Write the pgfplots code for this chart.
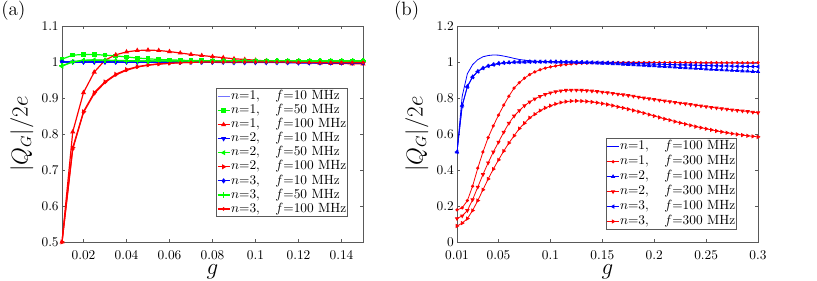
\documentclass[border=0pt]{standalone}
\usepackage{pgfplots}
\pgfplotsset{compat=1.18}
\usepackage{pgfplotstable}

\definecolor{mred}{rgb}{1,0,0}
\definecolor{mgreen}{rgb}{0,1,0}
\definecolor{mblue}{rgb}{0,0,1}
\definecolor{lblue}{rgb}{0.45,0.45,1}
\definecolor{axgray}{rgb}{0.35,0.35,0.35}

\pgfplotstableread{
g     a1    a2    a3    a4    a5    a6    a7    a8    a9
0.010 1.000 1.008 0.500 1.000 0.988 0.500 1.000 0.990 0.500
0.015 1.000 1.019 0.806 1.000 1.001 0.762 1.000 1.000 0.758
0.020 1.000 1.021 0.915 1.000 1.005 0.862 1.000 1.004 0.860
0.025 1.000 1.021 0.972 1.000 1.006 0.915 1.000 1.005 0.912
0.030 1.000 1.019 1.005 1.000 1.005 0.945 1.000 1.005 0.943
0.035 1.000 1.017 1.020 1.000 1.004 0.966 1.000 1.004 0.964
0.040 1.000 1.014 1.028 1.000 1.004 0.979 1.000 1.003 0.977
0.045 1.000 1.011 1.032 1.000 1.003 0.987 1.000 1.003 0.986
0.050 1.000 1.009 1.033 1.000 1.003 0.992 1.000 1.003 0.991
0.055 1.000 1.007 1.032 1.000 1.003 0.995 1.000 1.003 0.994
0.060 1.000 1.006 1.029 1.000 1.003 0.997 1.000 1.003 0.996
0.065 1.000 1.005 1.025 1.000 1.003 0.998 1.000 1.003 0.998
0.070 1.000 1.004 1.021 1.000 1.003 0.999 1.000 1.003 0.999
0.075 1.000 1.004 1.018 1.000 1.003 1.000 1.000 1.003 1.000
0.080 1.000 1.003 1.015 1.000 1.003 1.000 1.000 1.003 1.000
0.085 0.999 1.003 1.012 1.000 1.003 1.000 1.000 1.003 1.000
0.090 0.999 1.003 1.009 0.999 1.003 1.000 0.999 1.003 1.000
0.095 0.999 1.003 1.007 0.999 1.003 1.000 0.999 1.003 1.000
0.100 0.999 1.003 1.005 0.999 1.003 1.000 0.999 1.003 1.000
0.105 0.999 1.003 1.003 0.999 1.003 1.000 0.999 1.003 1.000
0.110 0.999 1.003 1.002 0.999 1.003 1.000 0.999 1.003 1.000
0.115 0.999 1.003 1.000 0.999 1.003 1.000 0.999 1.003 1.000
0.120 0.998 1.003 0.999 0.998 1.003 1.000 0.998 1.003 0.999
0.125 0.998 1.003 0.998 0.998 1.003 0.999 0.998 1.003 0.999
0.130 0.998 1.003 0.997 0.998 1.003 0.999 0.998 1.003 0.999
0.135 0.998 1.003 0.996 0.998 1.003 0.999 0.998 1.003 0.999
0.140 0.998 1.003 0.996 0.998 1.003 0.999 0.998 1.003 0.999
0.145 0.998 1.003 0.995 0.998 1.003 0.999 0.998 1.003 0.999
0.150 0.998 1.003 0.995 0.998 1.003 0.999 0.998 1.003 0.999
}\tbla

\pgfplotstableread{
g     b1    b2    b3    b4    b5    b6
0.010 0.500 0.178 0.500 0.130 0.500 0.089
0.015 0.810 0.190 0.760 0.145 0.755 0.105
0.020 0.935 0.230 0.865 0.175 0.862 0.130
0.025 0.985 0.310 0.918 0.235 0.916 0.175
0.030 1.013 0.410 0.948 0.305 0.947 0.230
0.035 1.029 0.500 0.966 0.375 0.965 0.290
0.040 1.036 0.580 0.978 0.440 0.977 0.350
0.045 1.039 0.645 0.986 0.500 0.985 0.405
0.050 1.038 0.705 0.992 0.555 0.991 0.456
0.055 1.033 0.760 0.995 0.610 0.995 0.505
0.060 1.027 0.810 0.997 0.660 0.997 0.550
0.065 1.020 0.855 0.999 0.700 0.999 0.590
0.070 1.014 0.885 1.000 0.730 1.000 0.630
0.075 1.010 0.910 1.000 0.757 1.000 0.660
0.080 1.007 0.930 1.001 0.778 1.001 0.690
0.085 1.005 0.945 1.001 0.795 1.001 0.710
0.090 1.004 0.957 1.001 0.809 1.001 0.730
0.095 1.003 0.966 1.001 0.820 1.001 0.745
0.100 1.002 0.973 1.001 0.829 1.001 0.757
0.105 1.002 0.978 1.000 0.835 1.001 0.767
0.110 1.001 0.983 1.000 0.840 1.000 0.775
0.115 1.001 0.986 0.999 0.843 1.000 0.780
0.120 1.001 0.989 0.999 0.844 1.000 0.783
0.125 1.000 0.991 0.998 0.844 0.999 0.784
0.130 1.000 0.993 0.997 0.843 0.999 0.783
0.135 1.000 0.994 0.996 0.841 0.998 0.781
0.140 1.000 0.995 0.995 0.839 0.998 0.778
0.145 1.000 0.996 0.994 0.836 0.997 0.774
0.150 0.999 0.996 0.993 0.833 0.996 0.769
0.155 0.999 0.997 0.992 0.830 0.996 0.764
0.160 0.999 0.997 0.990 0.826 0.995 0.758
0.165 0.999 0.997 0.989 0.822 0.994 0.751
0.170 0.999 0.997 0.987 0.818 0.993 0.745
0.175 0.999 0.997 0.986 0.814 0.993 0.738
0.180 0.998 0.997 0.984 0.810 0.992 0.731
0.185 0.998 0.997 0.983 0.805 0.991 0.724
0.190 0.998 0.997 0.981 0.800 0.990 0.716
0.195 0.998 0.997 0.979 0.796 0.989 0.708
0.200 0.998 0.997 0.978 0.792 0.988 0.700
0.205 0.997 0.997 0.976 0.788 0.988 0.692
0.210 0.997 0.997 0.974 0.784 0.987 0.684
0.215 0.997 0.997 0.973 0.780 0.986 0.677
0.220 0.997 0.997 0.971 0.776 0.985 0.669
0.225 0.996 0.997 0.969 0.772 0.984 0.662
0.230 0.996 0.997 0.968 0.768 0.984 0.655
0.235 0.996 0.996 0.966 0.764 0.983 0.648
0.240 0.996 0.996 0.964 0.760 0.982 0.641
0.245 0.995 0.996 0.963 0.756 0.981 0.635
0.250 0.995 0.996 0.961 0.752 0.980 0.629
0.255 0.995 0.996 0.959 0.748 0.980 0.623
0.260 0.995 0.996 0.958 0.745 0.979 0.617
0.265 0.994 0.996 0.956 0.741 0.978 0.612
0.270 0.994 0.996 0.955 0.738 0.978 0.607
0.275 0.994 0.996 0.953 0.734 0.977 0.602
0.280 0.994 0.996 0.952 0.731 0.976 0.598
0.285 0.993 0.996 0.950 0.728 0.976 0.594
0.290 0.993 0.996 0.949 0.725 0.975 0.590
0.295 0.993 0.996 0.947 0.721 0.975 0.587
0.300 0.993 0.996 0.946 0.718 0.974 0.584
}\tblb

\pgfplotsset{
  myaxis/.style={
    scale only axis, width=225.75pt, height=162pt,
    anchor=south west,
    axis line style={axgray}, tick style={axgray, line width=0.4pt},
    tick align=inside, xtick pos=both, ytick pos=both,
    major tick length=2.5pt,
    tick label style={font=\normalsize},
    xticklabel style={inner sep=0pt, yshift=-6pt},
    yticklabel style={inner sep=0pt, xshift=-2.3pt},
    label style={font=\fontsize{16}{19}\selectfont},
    xlabel style={at={(axis description cs:0.5,-0.152)}, anchor=base, inner sep=0pt},
    ylabel style={at={(axis description cs:-0.133,0.5)}, anchor=center, inner sep=0pt},
    legend cell align=left,
    legend style={draw=axgray, line width=0.4pt, font=\normalsize, inner sep=0.5pt,
      nodes={inner sep=0.5pt, text height=7.15pt, text depth=2.4pt}},
    legend image code/.code={\draw[mark repeat=2,mark phase=2] plot coordinates {(0pt,0pt) (4.5pt,0pt) (9pt,0pt)};},
    every axis plot/.append style={mark size=1.3pt},
  },
}

\begin{document}
\begin{tikzpicture}
\useasboundingbox (0,0) rectangle (612.75pt,210.75pt);
\node[font=\Large] at (10pt,202.5pt) {(a)};
\node[font=\Large] at (305pt,202.5pt) {(b)};

\begin{axis}[myaxis, at={(46.5pt,29.25pt)},
  xmin=0.01, xmax=0.15, ymin=0.5, ymax=1.1,
  xtick={0.02,0.04,0.06,0.08,0.1,0.12,0.14},
  xticklabels={0.02,0.04,0.06,0.08,0.1,0.12,0.14},
  ytick={0.5,0.6,0.7,0.8,0.9,1,1.1},
  yticklabels={0.5,0.6,0.7,0.8,0.9,1,1.1},
  xlabel={$g$}, ylabel={$|Q_G|/2e$},
  legend style={at={(0.950,0.116)}, anchor=south east},
  every axis plot/.append style={line width=0.9pt},
]
\addplot[lblue, line width=1.3pt, no marks] table[x=g,y=a1]{\tbla};
\addlegendentry{$n{=}1,\ \ \ f{=}10$ MHz}
\addplot[mgreen, mark=square*] table[x=g,y=a2]{\tbla};
\addlegendentry{$n{=}1,\ \ \ f{=}50$ MHz}
\addplot[mred, mark=triangle*] table[x=g,y=a3]{\tbla};
\addlegendentry{$n{=}1,\ \ \ f{=}100$ MHz}
\addplot[mblue, mark=triangle*, mark options={rotate=180}] table[x=g,y=a4]{\tbla};
\addlegendentry{$n{=}2,\ \ \ f{=}10$ MHz}
\addplot[mgreen, mark=triangle*, mark options={rotate=90}] table[x=g,y=a5]{\tbla};
\addlegendentry{$n{=}2,\ \ \ f{=}50$ MHz}
\addplot[mred, mark=triangle*, mark options={rotate=-90}] table[x=g,y=a6]{\tbla};
\addlegendentry{$n{=}2,\ \ \ f{=}100$ MHz}
\addplot[mblue, mark=diamond*] table[x=g,y=a7]{\tbla};
\addlegendentry{$n{=}3,\ \ \ f{=}10$ MHz}
\addplot[mgreen, mark=+, mark size=2pt] table[x=g,y=a8]{\tbla};
\addlegendentry{$n{=}3,\ \ \ f{=}50$ MHz}
\addplot[mred, mark=*, mark size=0.8pt] table[x=g,y=a9]{\tbla};
\addlegendentry{$n{=}3,\ \ \ f{=}100$ MHz}
\end{axis}

\begin{axis}[myaxis, at={(342.75pt,29.25pt)},
  xmin=0.01, xmax=0.3, ymin=0, ymax=1.2,
  xtick={0.01,0.05,0.1,0.15,0.2,0.25,0.3},
  xticklabels={0.01,0.05,0.1,0.15,0.2,0.25,0.3},
  ytick={0,0.2,0.4,0.6,0.8,1,1.2},
  yticklabels={0,0.2,0.4,0.6,0.8,1,1.2},
  xlabel={$g$}, ylabel={$|Q_G|/2e$},
  legend style={at={(0.930,0.056)}, anchor=south east,
     nodes={text height=7pt, text depth=3.2pt}},
  every axis plot/.append style={line width=0.6pt},
]
\addplot[mblue, no marks] table[x=g,y=b1]{\tblb};
\addlegendentry{$n{=}1,\ \ \ f{=}100$ MHz}
\addplot[mred, mark=*, mark size=0.9pt] table[x=g,y=b2]{\tblb};
\addlegendentry{$n{=}1,\ \ \ f{=}300$ MHz}
\addplot[mblue, mark=triangle*] table[x=g,y=b3]{\tblb};
\addlegendentry{$n{=}2,\ \ \ f{=}100$ MHz}
\addplot[mred, mark=triangle*, mark options={rotate=180}] table[x=g,y=b4]{\tblb};
\addlegendentry{$n{=}2,\ \ \ f{=}300$ MHz}
\addplot[mblue, mark=triangle*, mark options={rotate=90}] table[x=g,y=b5]{\tblb};
\addlegendentry{$n{=}3,\ \ \ f{=}100$ MHz}
\addplot[mred, mark=triangle*, mark options={rotate=-90}] table[x=g,y=b6]{\tblb};
\addlegendentry{$n{=}3,\ \ \ f{=}300$ MHz}
\end{axis}
\end{tikzpicture}
\end{document}
